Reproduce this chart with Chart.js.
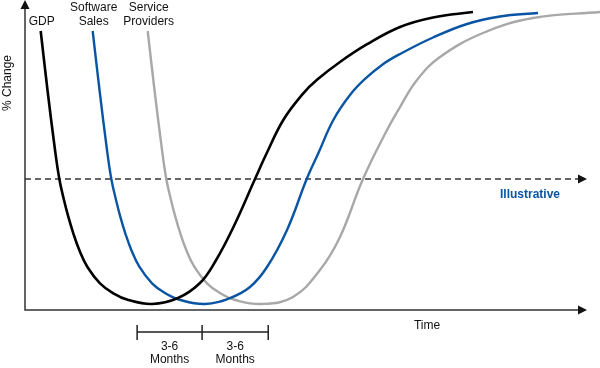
<!DOCTYPE html>
<html>
<head>
<meta charset="utf-8">
<script src="https://cdn.jsdelivr.net/npm/chart.js@4"></script>
<style>
  html, body { margin: 0; padding: 0; background: #fff; }
</style>
</head>
<body>
<canvas id="chart" width="600" height="368"></canvas>
<script>
// curves (time 0-100, % change 0-100)
const gdpX = [2.73, 3.91, 5.22, 5.97, 6.78, 7.53, 8.4, 9.44, 10.83, 13.04, 15.36, 17.97, 22.09,
  26.61, 30.43, 33.04, 36.17, 40.0, 42.03, 44.92, 48.4, 50.73, 54.78, 59.43, 65.22, 70.96, 77.91];
const gdpY = [90.0, 70.97, 51.61, 42.26, 35.48, 30.1, 24.74, 19.35, 13.97, 8.61, 5.39, 3.23, 1.94,
  3.87, 8.71, 15.48, 26.45, 42.26, 50.55, 61.29, 69.9, 74.19, 80.0, 85.65, 91.29, 94.35, 96.13];

const softwareX = [11.77, 12.96, 14.26, 15.01, 15.83, 16.57, 17.44, 18.49, 19.88, 22.09, 24.4, 27.01, 31.3,
  35.65, 39.13, 42.09, 45.57, 48.99, 51.01, 53.62, 56.52, 59.13, 62.31, 65.22, 70.96, 76.87, 82.61, 89.22];
const softwareY = [90.0, 70.97, 51.61, 42.26, 35.48, 30.1, 24.74, 19.35, 13.97, 8.61, 5.39, 3.23, 1.94,
  3.87, 7.42, 13.87, 25.81, 42.26, 50.55, 61.29, 69.35, 74.52, 79.35, 82.58, 87.9, 92.26, 94.68, 95.81];

const serviceX = [21.34, 22.52, 23.83, 24.57, 25.39, 26.14, 27.01, 28.05, 29.44, 31.65, 33.97, 36.57, 41.22,
  46.61, 51.3, 54.78, 58.78, 62.96, 65.22, 68.17, 72.17, 79.65, 88.35, 100];
const serviceY = [90.0, 70.97, 51.61, 42.26, 35.48, 30.1, 24.74, 19.35, 13.97, 8.61, 5.39, 3.23, 1.94,
  4.19, 12.9, 23.55, 42.26, 58.06, 65.48, 74.19, 81.61, 89.35, 94.19, 96.13];

const seriesNames = ['GDP', ['Software', 'Sales'], ['Service', 'Providers']];
const baseline = 42.26;
const bracketX = [19.5, 30.8, 42.3];
const bracketLabel = ['3-6', 'Months'];

const pts = (xs, ys) => xs.map((x, i) => ({ x: x, y: ys[i] }));

const FONT = '"Liberation Sans", Arial, sans-serif';

function arrow(ctx, x, y, dir) {
  ctx.beginPath();
  if (dir === 'right') {
    ctx.moveTo(x, y);
    ctx.lineTo(x - 9, y - 4.5);
    ctx.lineTo(x - 9, y + 4.5);
  } else {
    ctx.moveTo(x, y);
    ctx.lineTo(x - 4.5, y + 9);
    ctx.lineTo(x + 4.5, y + 9);
  }
  ctx.closePath();
  ctx.fill();
}

const decor = {
  id: 'decor',
  beforeDatasetsDraw(chart) {
    const ctx = chart.ctx;
    const xs = chart.scales.x, ys = chart.scales.y;
    const x0 = xs.getPixelForValue(0), y0 = ys.getPixelForValue(0);
    const yb = ys.getPixelForValue(baseline);
    ctx.save();
    // dashed reference line
    ctx.strokeStyle = '#666';
    ctx.fillStyle = '#111';
    ctx.lineWidth = 2;
    ctx.setLineDash([6, 4]);
    ctx.beginPath();
    ctx.moveTo(x0, yb);
    ctx.lineTo(580, yb);
    ctx.stroke();
    ctx.setLineDash([]);
    arrow(ctx, 587, yb, 'right');
    // axes
    ctx.strokeStyle = '#333';
    ctx.fillStyle = '#111';
    ctx.lineWidth = 1.5;
    ctx.beginPath();
    ctx.moveTo(x0, 5);
    ctx.lineTo(x0, y0);
    ctx.lineTo(580, y0);
    ctx.stroke();
    arrow(ctx, 587, y0, 'right');
    arrow(ctx, x0, 0, 'up');
    ctx.restore();
  },
  afterDatasetsDraw(chart) {
    const ctx = chart.ctx;
    const xs = chart.scales.x;
    ctx.save();
    ctx.fillStyle = '#111';
    ctx.font = '12px ' + FONT;
    ctx.textAlign = 'center';
    ctx.textBaseline = 'middle';
    // series labels above each curve start
    const starts = [gdpX[0], softwareX[0], serviceX[0]];
    seriesNames.forEach((n, i) => {
      const cx = xs.getPixelForValue(starts[i]) + 1;
      const lines = Array.isArray(n) ? n : [n];
      lines.forEach((t, j) => {
        ctx.fillText(t, cx, 22 - (lines.length - 1 - j) * 14);
      });
    });
    // axis titles
    ctx.fillText('Time', 427, 326);
    ctx.save();
    ctx.translate(8, 83);
    ctx.rotate(-Math.PI / 2);
    ctx.fillText('% Change', 0, 0);
    ctx.restore();
    // illustrative tag
    ctx.fillStyle = '#0a55a3';
    ctx.font = 'bold 12px ' + FONT;
    ctx.fillText('Illustrative', 530, 195);
    // bracket
    const bx = bracketX.map(v => xs.getPixelForValue(v));
    ctx.strokeStyle = '#222';
    ctx.lineWidth = 1.5;
    ctx.beginPath();
    ctx.moveTo(bx[0], 332);
    ctx.lineTo(bx[2], 332);
    bx.forEach(p => { ctx.moveTo(p, 325); ctx.lineTo(p, 340); });
    ctx.stroke();
    ctx.fillStyle = '#111';
    ctx.font = '12px ' + FONT;
    for (let k = 0; k < 2; k++) {
      const cx = (bx[k] + bx[k + 1]) / 2;
      ctx.fillText(bracketLabel[0], cx, 347);
      ctx.fillText(bracketLabel[1], cx, 360);
    }
    ctx.restore();
  }
};

new Chart(document.getElementById('chart'), {
  type: 'line',
  data: {
    datasets: [
      { data: pts(gdpX, gdpY), borderColor: '#000', borderWidth: 2.6 },
      { data: pts(softwareX, softwareY), borderColor: '#0a55a3', borderWidth: 2.4 },
      { data: pts(serviceX, serviceY), borderColor: '#a8a8a8', borderWidth: 2.4 }
    ]
  },
  options: {
    responsive: false,
    animation: false,
    devicePixelRatio: 1,
    layout: { padding: { left: 25, right: 0, top: 0, bottom: 58 } },
    elements: {
      point: { radius: 0 },
      line: { tension: 0.4, fill: false, borderCapStyle: 'butt' }
    },
    scales: {
      x: { type: 'linear', display: false, min: 0, max: 100 },
      y: { type: 'linear', display: false, min: 0, max: 100 }
    },
    plugins: { legend: { display: false }, tooltip: { enabled: false } }
  },
  plugins: [decor]
});
</script>
</body>
</html>
